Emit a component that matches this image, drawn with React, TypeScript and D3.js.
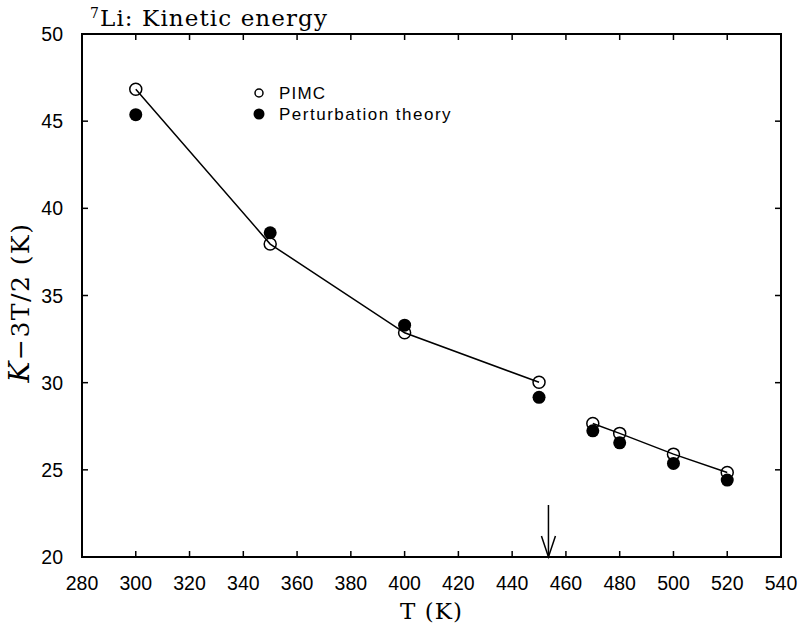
import * as d3 from 'd3';

// temperatures (K) and the two data sets
const temps = [300, 350, 400, 450, 470, 480, 500, 520];
const pimc = [46.83, 37.95, 32.86, 30.02, 27.66, 27.09, 25.9, 24.85];
const perturb = [45.37, 38.6, 33.3, 29.16, 27.24, 26.55, 25.37, 24.41];

// melting point marked by the arrow
const meltT = 453.5;

const xTicks = d3.range(280, 541, 20);
const yTicks = d3.range(20, 51, 5);

export default function App() {
  const width = 799;
  const height = 629;
  const left = 82;
  const right = 781;
  const top = 34;
  const bottom = 557;

  const x = d3.scaleLinear().domain([280, 540]).range([left, right]);
  const y = d3.scaleLinear().domain([20, 50]).range([bottom, top]);

  const pts = temps.map((t, i) => ({ t, p: pimc[i], q: perturb[i] }));
  // fitted lines: solid and liquid branches, split at the melting point
  const solid = pts.filter(d => d.t < meltT);
  const liquid = pts.filter(d => d.t > meltT);
  const line = d3.line<any>().x(d => x(d.t)).y(d => y(d.p));

  const tick = 6;
  const sans = 'Liberation Sans, Arial, sans-serif';
  const serif = 'DejaVu Serif, serif';

  return (
    <svg width={width} height={height} style={{ position: 'absolute', left: 0, top: 0, background: '#fff' }}>
      {/* title */}
      <text x={90} y={26} fontFamily={serif} fontSize={23} letterSpacing={1.1}>
        <tspan fontSize={14} dy={-8}>7</tspan>
        <tspan dy={8}>Li:  Kinetic  energy</tspan>
      </text>

      {/* frame */}
      <rect x={left} y={top} width={right - left} height={bottom - top} fill="none" stroke="#000" strokeWidth={2} />

      {/* x ticks, top and bottom */}
      {xTicks.map(t => (
        <g key={'x' + t}>
          <line x1={x(t)} x2={x(t)} y1={bottom} y2={bottom - tick} stroke="#000" strokeWidth={1.5} />
          <line x1={x(t)} x2={x(t)} y1={top} y2={top + tick} stroke="#000" strokeWidth={1.5} />
          <text x={x(t)} y={590} textAnchor="middle" fontFamily={sans} fontSize={19.5}>{t}</text>
        </g>
      ))}

      {/* y ticks, left and right */}
      {yTicks.map(v => (
        <g key={'y' + v}>
          <line x1={left} x2={left + tick} y1={y(v)} y2={y(v)} stroke="#000" strokeWidth={1.5} />
          <line x1={right} x2={right - tick} y1={y(v)} y2={y(v)} stroke="#000" strokeWidth={1.5} />
          <text x={63} y={y(v)} dy="0.36em" textAnchor="end" fontFamily={sans} fontSize={19.5}>{v}</text>
        </g>
      ))}

      {/* axis titles */}
      <text x={x(410)} y={619} textAnchor="middle" fontFamily={serif} fontSize={23} letterSpacing={1}>T  (K)</text>
      <text
        transform={`translate(29, ${y(34.6)}) rotate(-90)`}
        textAnchor="middle"
        fontFamily={serif}
        fontSize={25}
        letterSpacing={1.5}
      >
        <tspan fontStyle="italic" fontSize={28}>K</tspan>−3T/2  (K)
      </text>

      {/* fitted lines */}
      <path d={line(solid) || ''} fill="none" stroke="#000" strokeWidth={1.5} />
      <path d={line(liquid) || ''} fill="none" stroke="#000" strokeWidth={1.5} />

      {/* points */}
      {pts.map(d => (
        <g key={'p' + d.t}>
          <circle cx={x(d.t)} cy={y(d.q)} r={6.5} fill="#000" />
          <circle cx={x(d.t)} cy={y(d.p)} r={6} fill="none" stroke="#000" strokeWidth={1.5} />
        </g>
      ))}

      {/* melting point arrow */}
      <line x1={x(meltT)} x2={x(meltT)} y1={505} y2={bottom} stroke="#000" strokeWidth={1.5} />
      <path
        d={`M${x(meltT) - 7},${bottom - 21} L${x(meltT)},${bottom} L${x(meltT) + 7},${bottom - 21}`}
        fill="none"
        stroke="#000"
        strokeWidth={1.5}
      />

      {/* legend */}
      <circle cx={259} cy={93} r={4} fill="none" stroke="#000" strokeWidth={1.5} />
      <text x={279} y={99} fontFamily={sans} fontSize={17} letterSpacing={1.2}>PIMC</text>
      <circle cx={259} cy={114} r={5.5} fill="#000" />
      <text x={279} y={120} fontFamily={sans} fontSize={17} letterSpacing={1.5}>Perturbation  theory</text>
    </svg>
  );
}
